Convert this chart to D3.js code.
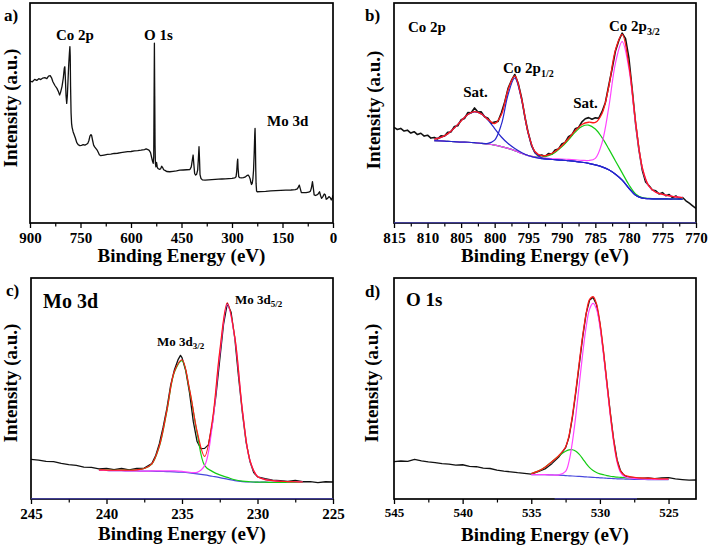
<!DOCTYPE html>
<html><head><meta charset="utf-8">
<script src="https://cdn.jsdelivr.net/npm/d3@7"></script>
<style>body{margin:0;background:#fff}svg{display:block}</style>
</head><body>
<svg id="chart" width="710" height="549"></svg>
<script>
// ---------- DATA ----------
// Panel a: survey spectrum [binding energy, intensity]
const survey = [[900,64.5],[893,64.2],[886,65.3],[880,64.8],[874,65.6],[868,65.2],[862,65.9],[856,66.1],[850,65.6],[845,66.8],[840,67.0],[836,66.0],[832,64.2],[826,62.5],[820,61.2],[815,59.5],[812,58.2],[809,59.5],[805,62],[801,66],[798,70.5],[796.5,71],[795,66],[793,58],[791,54.4],[789,58],[787,65],[785,72],[783,77],[781.5,80.2],[780.5,76],[779.5,62],[778,50],[776.5,45.3],[775,43.5],[772,41.5],[769,40.2],[765,38.5],[761,36.5],[757,35.6],[752,35.2],[747,35.3],[742,35.6],[737,35.4],[732,35.8],[728,36.3],[725,37.5],[722,39.5],[719,40.2],[717,39.8],[714,37.5],[711,35.4],[708,34.6],[704,33.8],[700,33],[697,32],[694,31],[690,30.6],[680,30.9],[670,31.2],[660,31.3],[650,31.6],[640,31.7],[630,32],[620,32.2],[610,32.4],[600,32.5],[590,32.8],[580,32.9],[570,33.1],[560,33.4],[555,33.7],[550,33.4],[546,33.0],[542,32.0],[539,30.0],[536,28.0],[534,27.1],[532.5,30],[531.5,55],[530.5,81.7],[529.5,58],[528.5,35],[527.5,27],[526,25.5],[524,27.5],[522,25.5],[520,24.8],[516,24.4],[512,24.6],[509,25.8],[506,25.2],[503,24.2],[498,23.8],[494,23.4],[485,23.3],[475,23.5],[465,23.7],[455,24.0],[445,24.1],[435,24.2],[425,24.3],[421,25.5],[418,28.5],[415.5,30.9],[413.5,27],[411,22.5],[408,21.8],[405,22.2],[402,24],[400,29],[398,34.7],[396.5,29],[395,22],[392,20.2],[388,19.6],[380,19.5],[370,19.6],[360,19.7],[350,19.8],[340,19.9],[330,20],[320,20.1],[310,20.2],[300,20.3],[292,20.5],[288,21],[286,23.5],[284,28],[283,29],[282,25],[280,21],[277,20.6],[272,20.5],[266,20.6],[260,21],[256,21.5],[252,21.8],[249,21.2],[246,20],[244,18.5],[242,17.5],[240,18],[238,20],[236,24],[234,32],[232.5,40],[231.5,43],[230.5,36],[229.5,25],[228.5,18],[227,14.5],[225,14.2],[215,14.3],[200,14.4],[185,14.6],[170,14.7],[155,14.8],[140,14.9],[125,15],[112,15.2],[106,15.5],[103,16.3],[100,17.2],[97,15.5],[94,13.8],[88,13.8],[80,13.8],[72,14],[67,14.5],[64,16],[61,18.8],[58.5,16],[56,12.8],[52,12.5],[48,12.8],[44,13.2],[40,14.2],[37,12.5],[34,11.2],[30,12],[26,13.2],[23,12.8],[20,10.8],[16,11.2],[12,12],[8,11.5],[5,10.5],[2,11.5],[0,12.7]];

// Panel b: Co 2p measured [binding energy, intensity]
const co2pData = [[815,43.5],[814.5,42.5],[814,43],[813.5,41.8],[813,42.2],[812.5,40.9],[812,41.5],[811.5,40.2],[811,40.8],[810.5,39.5],[810,39.9],[809.5,38.6],[809,38.9],[808.5,38.2],[808,39.6],[807.5,39.4],[807,41.2],[806.5,41.4],[806,43.9],[805.5,44.2],[805,46.9],[804.5,47.5],[804,50.2],[803.5,50.1],[803,52.3],[802.5,50.4],[802,50.5],[801.5,48.3],[801,47.6],[800.5,45.4],[800,45.9],[799.5,46.2],[799,50.1],[798.5,55.0],[798,61.2],[797.5,64.8],[797,67.5],[796.5,63.5],[796,57.1],[795.5,48.3],[795,41.0],[794.5,35.2],[794,32.0],[793.5,30.6],[793,30.9],[792.5,30.2],[792,31.6],[791.5,31.3],[791,33.2],[790.5,33.6],[790,35.9],[789.5,36.6],[789,39.2],[788.5,40.1],[788,42.8],[787.5,43.4],[787,46.0],[786.5,47.4],[786,47.9],[785.5,47.2],[785,47.8],[784.5,47.6],[784,50.6],[783.5,54.8],[783,62.5],[782.5,70.1],[782,78.2],[781.5,83.0],[781,86.3],[780.5,83.8],[780,75.0],[779.5,60.4],[779,45.1],[778.5,33.2],[778,24.0],[777.5,18.6],[777,16.9],[776.5,15.0],[776,14.6],[775.5,13.2],[775,13.8],[774.5,12.4],[774,12.9],[773.5,11.5],[773,12.3],[772.5,11.0],[772,11.6],[771.5,10.1],[771,9.0],[770.5,7.8],[770,6.6]];
// Panel b fit: energies, background, component heights above background, envelope
const co2pFitE  = [809,808,807,806,805,804,803,802,801,800,799,798,797,796,795,794,793,792,791,790,789,788,787,786,785,784,783,782,781,780,779,778,777,776,775,774,773,772];
const co2pBg    = [37.4,37.3,37.1,37.0,36.8,36.7,36.5,36.2,35.9,35.4,34.7,33.9,32.9,31.7,30.6,29.8,29.3,29.0,28.8,28.6,28.3,28.0,27.6,27.1,26.4,25.5,24.2,22.2,19.5,15.8,12.6,11.3,11.1,11.0,11.0,10.9,10.9,10.8];
const co2pSat1  = [0.7,1.6,3.4,6.2,9.6,12.6,14.05,13.4,10.9,7.5,4.4,2.2,0.96,0.36,0.1,0,0,0,0,0,0,0,0,0,0,0,0,0,0,0,0,0,0,0,0,0,0,0];
const co2p12    = [0,0,0,0,0,0,0,0,0.3,2.3,10.1,24.5,33,24.5,10.1,2.3,0.3,0,0,0,0,0,0,0,0,0,0,0,0,0,0,0,0,0,0,0,0,0];
const co2pSat2  = [0,0,0,0,0,0,0,0,0,0,0,0,0,0,0.07,0.24,0.66,1.6,3.3,6.0,9.5,13.3,16.3,17.4,16.3,13.3,9.5,6.0,3.3,1.6,0.66,0.24,0.08,0,0,0,0,0];
const co2p32    = [0,0,0,0,0,0,0,0,0,0,0,0,0,0,0,0.2,0.3,0.4,0.4,0.5,0.6,0.7,0.9,1.3,3.0,11.0,28.3,50.5,62.9,54.4,32.7,13.7,5.5,3.0,2.0,1.4,1.0,0.7];
const co2pEnv   = [38.1,38.9,40.5,43.2,46.4,49.3,50.6,49.6,47.1,45.2,49.2,60.6,66.9,56.6,40.9,32.5,30.6,31.0,32.5,35.1,38.4,42.0,44.8,45.8,45.7,49.8,62.0,78.7,85.7,71.8,46.0,25.2,16.7,14.0,13.0,12.3,11.9,11.5];

// Panel c: Mo 3d
const mo3dData = [[245,17.9],[244.5,17.6],[244,17.0],[243.5,16.9],[243,16.1],[242.5,15.6],[242,15.2],[241.5,14.4],[241,14.3],[240.5,13.6],[240,13.9],[239.5,13.3],[239,13.8],[238.5,13.2],[238,13.9],[237.5,14.0],[237,16.0],[236.75,19.5],[236.5,25.0],[236.25,32.5],[236,41.0],[235.75,51.5],[235.5,58.5],[235.25,63.2],[235.1,65.0],[235,64.0],[234.75,58.0],[234.5,48.0],[234.25,35.0],[234,26.0],[233.75,22.8],[233.5,22.9],[233.25,24.5],[233,33.5],[232.75,47.0],[232.5,63.0],[232.25,79.0],[232,88.5],[231.75,84.5],[231.5,72.5],[231.25,55.0],[231,39.0],[230.75,25.5],[230.5,17.0],[230.25,12.0],[230,10.0],[229.5,9.2],[229,8.5],[228.5,8.3],[228,8.0],[227.5,8.4],[227,7.8],[226.5,7.9],[226,7.4],[225.5,7.8],[225,7.7]];
const mo3dFitE = [240.5,240,239.5,239,238.5,238,237.5,237,236.5,236,235.5,235,234.5,234,233.5,233,232.5,232,231.5,231,230.5,230,229.5,229,228.5,228,227.5,227];
const mo3dBg   = [13.0,12.9,12.8,12.8,12.7,12.7,12.6,12.6,12.5,12.4,12.3,12.1,11.8,11.4,10.9,10.3,9.7,9.0,8.3,7.9,7.7,7.6,7.6,7.5,7.5,7.5,7.5,7.5];
const mo3d32   = [0.2,0.2,0.2,0.3,0.3,0.5,1.2,3.2,11.3,27.4,45.1,50.5,37.5,18.5,4.2,2.2,1.2,0.8,0.4,0.2,0.1,0,0,0,0,0,0,0];
const mo3d52   = [0,0,0,0,0,0,0,0.1,0.2,0.3,0.4,0.4,0.3,0.66,4.2,22.6,56.0,79,64.5,32.1,9.7,2.6,1.2,0.8,0.5,0.4,0.3,0.2];
const mo3dEnv  = [13.2,13.1,13.0,13.1,13.0,13.2,13.8,15.9,24.0,40.1,57.8,63.0,49.6,30.6,19.3,35.1,66.9,88.8,73.2,40.2,17.5,10.2,8.8,8.3,8.0,7.9,7.8,7.7];

// Panel d: O 1s
const o1sData = [[545,16.9],[544.5,17.2],[544,17.0],[543.5,17.9],[543,17.3],[542.5,16.8],[542,16.5],[541.5,16.0],[541,15.8],[540.5,15.3],[540,15.5],[539.5,14.8],[539,14.6],[538.5,14.0],[538,13.8],[537.5,13.1],[537,12.6],[536.5,12.3],[536,11.9],[535.5,11.6],[535,11.3],[534.5,12.4],[534,13.6],[533.5,16.0],[533,19.0],[532.5,23.2],[532.25,28.0],[532,37.0],[531.75,48.5],[531.5,61.0],[531.25,73.5],[531,84.0],[530.75,90.0],[530.5,91.2],[530.25,88.0],[530,79.5],[529.75,67.0],[529.5,53.0],[529.25,39.5],[529,27.0],[528.75,17.8],[528.5,12.8],[528.25,10.8],[528,9.9],[527.5,9.6],[527,9.3],[526.5,9.6],[526,9.2],[525.5,9.5],[525,9.7],[524.5,9.1],[524,8.8],[523.5,8.5],[523,8.6]];
const o1sFitE  = [535,534.5,534,533.5,533,532.5,532.25,532,531.75,531.5,531.25,531,530.75,530.5,530.25,530,529.75,529.5,529.25,529,528.75,528.5,528.25,528,527.5,527,526.5,526,525.5,525];
const o1sBg    = [11.0,11.0,11.0,10.9,10.8,10.6,10.5,10.4,10.3,10.2,10.1,10.0,9.9,9.8,9.7,9.6,9.5,9.4,9.3,9.2,9.15,9.1,9.05,9.0,8.9,8.9,8.8,8.8,8.8,8.8];
const o1sOH    = [0.5,1.6,3.4,6.0,8.7,11.0,11.7,11.9,11.3,10.0,8.1,6.0,4.3,3.1,2.3,1.8,1.5,1.2,1.0,0.9,0.75,0.7,0.65,0.6,0.5,0.4,0.4,0.3,0.2,0.2];
const o1sLat   = [0,0,0,0,0.1,1.9,6.5,15.6,27.7,41.8,55.9,68.0,76.1,78.7,76.3,68.4,56.5,42.6,28.7,16.6,7.55,2.9,1.25,0.7,0.4,0.2,0.2,0.1,0.1,0.1];
const o1sEnv   = [11.5,12.6,14.4,16.9,19.6,23.5,28.7,37.9,49.3,62.0,74.1,84.0,90.3,91.6,88.3,79.8,67.5,53.2,39.0,26.7,17.45,12.7,10.95,10.3,9.8,9.5,9.4,9.2,9.1,9.1];

// Tick values
const aMajor = [900,750,600,450,300,150,0], aMinor = [825,675,525,375,225,75];
const bMajor = [815,810,805,800,795,790,785,780,775,770], bMinor = [812.5,807.5,802.5,797.5,792.5,787.5,782.5,777.5,772.5];
const cMajor = [245,240,235,230,225], cMinor = [242.5,237.5,232.5,227.5];
const dMajor = [545,540,535,530,525], dMinor = [542.5,537.5,532.5,527.5];

// ---------- DRAW ----------
const FONT = '"Liberation Serif","Times New Roman",serif';
const svg = d3.select("#chart");
const C = {black:"#111", red:"#ff1a1a", mag:"#ff44ff", green:"#14cc14", blue:"#2626cc", bg:"#4848dd", zero:"#4a46b8"};

function txt(g, x, y, s, size, anchor, parts) {
  const t = g.append("text").attr("x", x).attr("y", y).attr("font-family", FONT)
    .attr("font-weight", "bold").attr("font-size", size).attr("text-anchor", anchor || "start").attr("fill", "#000");
  if (parts) {
    t.append("tspan").text(s);
    t.append("tspan").attr("font-size", parts.size).attr("dy", parts.dy).text(parts.sub);
  } else t.text(s);
  return t;
}

function panel(cfg) {
  const g = svg.append("g");
  const x = d3.scaleLinear().domain(cfg.domain).range([cfg.x0, cfg.x1]);
  const y = d3.scaleLinear().domain([0, 100]).range([cfg.y1, cfg.y0]);
  const clipId = "clip" + cfg.id;
  svg.append("clipPath").attr("id", clipId).append("rect")
    .attr("x", cfg.x0).attr("y", cfg.y0).attr("width", cfg.x1 - cfg.x0).attr("height", cfg.y1 - cfg.y0);

  g.append("g").attr("transform", `translate(0,${cfg.y1})`)
    .call(d3.axisBottom(x).tickValues(cfg.minor).tickSize(3.5).tickFormat(""))
    .call(a => { a.select(".domain").remove(); a.selectAll("line").attr("stroke", "#000").attr("stroke-width", 1.2); });
  g.append("g").attr("transform", `translate(0,${cfg.y1})`)
    .call(d3.axisBottom(x).tickValues(cfg.major).tickSize(5).tickPadding(cfg.pad).tickFormat(d3.format("d")))
    .call(a => {
      a.select(".domain").remove();
      a.selectAll("line").attr("stroke", "#000").attr("stroke-width", 1.3);
      a.selectAll("text").attr("font-family", FONT).attr("font-weight", "bold").attr("font-size", cfg.tickFont).attr("fill", "#000");
    });

  const plot = g.append("g").attr("clip-path", `url(#${clipId})`);
  const lineLin = d3.line().x(d => x(d[0])).y(d => y(d[1]));
  const lineSm = d3.line().x(d => x(d[0])).y(d => y(d[1])).curve(d3.curveCatmullRom.alpha(0.5));
  const draw = (pts, color, w, smooth) => plot.append("path").datum(pts)
    .attr("fill", "none").attr("stroke", color).attr("stroke-width", w)
    .attr("stroke-linejoin", "round").attr("d", (smooth ? lineSm : lineLin));
  cfg.series(draw);
  g.append("rect").attr("x", cfg.x0).attr("y", cfg.y0).attr("width", cfg.x1 - cfg.x0).attr("height", cfg.y1 - cfg.y0)
    .attr("fill", "none").attr("stroke", "#000").attr("stroke-width", 1.7);
  if (cfg.zeroLine) {
    g.append("line").attr("x1", x(cfg.zeroLine[0])).attr("x2", x(cfg.zeroLine[1]))
      .attr("y1", cfg.y1 - 0.3).attr("y2", cfg.y1 - 0.3).attr("stroke", C.zero).attr("stroke-width", 1.1);
  }

  txt(g, (cfg.x0 + cfg.x1) / 2, cfg.titleY, "Binding Energy (eV)", 19, "middle");
  g.append("text").attr("transform", `translate(${cfg.ylabX},${cfg.ylabY}) rotate(-90)`)
    .attr("text-anchor", "middle").attr("dominant-baseline", "central")
    .attr("font-family", FONT).attr("font-weight", "bold").attr("font-size", 19).text("Intensity (a.u.)");
  txt(g, cfg.letter[0], cfg.letter[1], cfg.id + ")", 17, "start");
  cfg.labels(g);
}

const zip = (e, v) => e.map((d, i) => [d, v[i]]);
const stack = (e, bg, v) => e.map((d, i) => [d, bg[i] + v[i]]);

panel({id:"a", x0:30, x1:333, y0:3, y1:223, domain:[900,0], major:aMajor, minor:aMinor, tickFont:15, pad:4,
  titleY:262, ylabX:10, ylabY:108, letter:[4,21],
  series: draw => { draw(survey, C.black, 1.3, false); },
  labels: g => {
    txt(g, 56, 40, "Co 2p", 15);
    txt(g, 144, 40, "O 1s", 15);
    txt(g, 267, 126, "Mo 3d", 15);
  }});

panel({id:"b", x0:394, x1:696, y0:3, y1:223, domain:[815,770], major:bMajor, minor:bMinor, tickFont:15, pad:4,
  titleY:262, ylabX:373, ylabY:110, letter:[365,21], zeroLine:[815,770],
  series: draw => {
    draw(co2pData, C.black, 1.6, false);
    draw(zip(co2pFitE, co2pBg), C.bg, 1.2, true);
    draw(stack(co2pFitE, co2pBg, co2pSat2), C.green, 1.2, true);
    draw(stack(co2pFitE, co2pBg, co2p32), C.mag, 1.2, true);
    draw(stack(co2pFitE, co2pBg, co2pSat1), C.blue, 1.2, true);
    draw(stack(co2pFitE, co2pBg, co2p12), C.blue, 1.2, true);
    draw(zip(co2pFitE, co2pEnv), C.red, 1.3, true);
  },
  labels: g => {
    txt(g, 408, 31.5, "Co 2p", 15);
    txt(g, 475.5, 97, "Sat.", 15, "middle");
    txt(g, 503, 73, "Co 2p", 15, "start", {sub:"1/2", size:10, dy:4});
    txt(g, 585.5, 108, "Sat.", 15, "middle");
    txt(g, 609, 31, "Co 2p", 15, "start", {sub:"3/2", size:10, dy:4});
  }});

panel({id:"c", x0:31, x1:333, y0:278, y1:499, domain:[245,225], major:cMajor, minor:cMinor, tickFont:15, pad:4,
  titleY:540, ylabX:10.5, ylabY:383, letter:[6,296], zeroLine:[245,225],
  series: draw => {
    draw(mo3dData, C.black, 1.3, false);
    draw(zip(mo3dFitE, mo3dBg), C.bg, 1.2, true);
    draw(stack(mo3dFitE, mo3dBg, mo3d32), C.green, 1.2, true);
    draw(stack(mo3dFitE, mo3dBg, mo3d52), C.mag, 1.2, true);
    draw(zip(mo3dFitE, mo3dEnv), C.red, 1.2, true);
  },
  labels: g => {
    txt(g, 43, 308, "Mo 3d", 20);
    txt(g, 157, 346, "Mo 3d", 13, "start", {sub:"3/2", size:9, dy:3});
    txt(g, 235, 304, "Mo 3d", 13, "start", {sub:"5/2", size:9, dy:3});
  }});

panel({id:"d", x0:394, x1:696, y0:278, y1:499, domain:[545,523], major:dMajor, minor:dMinor, tickFont:13, pad:4,
  titleY:541, ylabX:371.5, ylabY:383, letter:[365,297], zeroLine:[533.3,527.3],
  series: draw => {
    draw(o1sData, C.black, 1.3, false);
    draw(zip(o1sFitE, o1sBg), C.bg, 1.2, true);
    draw(stack(o1sFitE, o1sBg, o1sOH), C.green, 1.2, true);
    draw(stack(o1sFitE, o1sBg, o1sLat), C.mag, 1.2, true);
    draw(zip(o1sFitE, o1sEnv), C.red, 1.3, true);
  },
  labels: g => {
    txt(g, 406, 306, "O 1s", 19);
  }});
</script>
</body></html>
